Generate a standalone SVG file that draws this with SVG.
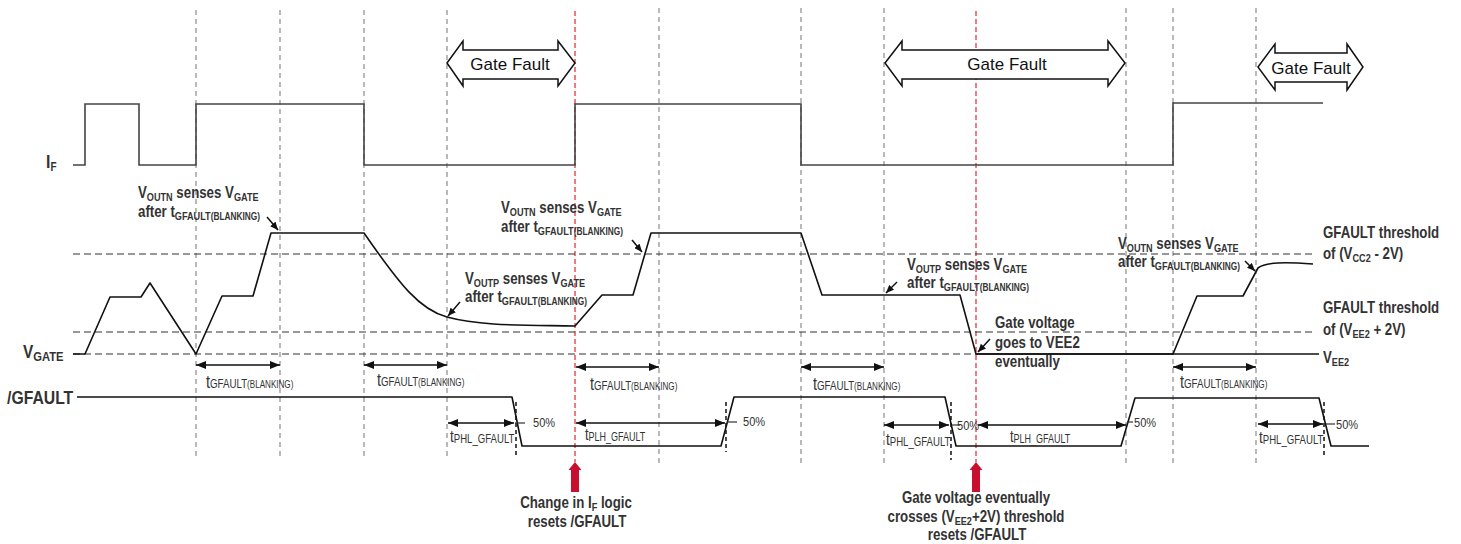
<svg xmlns="http://www.w3.org/2000/svg" width="1461" height="544" viewBox="0 0 1461 544">
<style>
.grid{stroke:#8c8c8c;stroke-width:1.2;stroke-dasharray:5 4;fill:none}
.red{stroke:#e3262b;stroke-width:1.2;stroke-dasharray:5 3;fill:none}
.thr{stroke:#333;stroke-width:1.2;stroke-dasharray:7 4;fill:none}
.mk{stroke:#111;stroke-width:1.5;stroke-dasharray:4 3;fill:none}
.wave{stroke:#111;stroke-width:1.6;fill:none;stroke-linejoin:round}
.ifw{stroke:#444;stroke-width:1.6;fill:none}
.tick{stroke:#333;stroke-width:1.2}
.dim{stroke:#111;stroke-width:1.6;fill:none;marker-start:url(#ah);marker-end:url(#ah)}
.ptr{stroke:#111;stroke-width:1.5;fill:none;marker-end:url(#ph)}
.blk{fill:#fff;stroke:#111;stroke-width:1.5;stroke-linejoin:miter}
.gf{font-family:"Liberation Sans",Arial,sans-serif;font-size:17px;fill:#111;text-anchor:middle}
.lb{font-family:"Liberation Sans",Arial,sans-serif;font-weight:bold;font-size:16px;fill:#333}
.rg{font-family:"Liberation Sans",Arial,sans-serif;font-size:18px;fill:#333}
.pc{font-family:"Liberation Sans",Arial,sans-serif;font-size:13px;fill:#333}
.s{font-size:11px}
.s2{font-size:10px}
.r1{font-size:12px}
.r2{font-size:10px}
.mid{text-anchor:middle}
.redarrow{fill:#c8102e}
</style>
<defs>
<marker id="ah" viewBox="0 0 10 8" refX="10" refY="4" markerWidth="10" markerHeight="8" markerUnits="userSpaceOnUse" orient="auto-start-reverse"><path d="M0,0 L10,4 L0,8 z" fill="#111"/></marker>
<marker id="ph" viewBox="0 0 8 7" refX="8" refY="3.5" markerWidth="8" markerHeight="7" markerUnits="userSpaceOnUse" orient="auto"><path d="M0,0 L8,3.5 L0,7 z" fill="#111"/></marker>
</defs>
<rect width="1461" height="544" fill="#fff"/>

<g id="gridlines">
<line class="grid" x1="196" y1="10" x2="196" y2="460"/>
<line class="grid" x1="280" y1="10" x2="280" y2="460"/>
<line class="grid" x1="364" y1="10" x2="364" y2="460"/>
<line class="grid" x1="447" y1="10" x2="447" y2="460"/>
<line class="grid" x1="659" y1="8" x2="659" y2="464"/>
<line class="grid" x1="801" y1="8" x2="801" y2="464"/>
<line class="grid" x1="884" y1="8" x2="884" y2="464"/>
<line class="grid" x1="1126" y1="8" x2="1126" y2="466"/>
<line class="grid" x1="1173" y1="8" x2="1173" y2="466"/>
<line class="grid" x1="1256" y1="8" x2="1256" y2="466"/>
<line class="red" x1="575" y1="11" x2="575" y2="462"/>
<line class="red" x1="976" y1="11" x2="976" y2="462"/>
</g>

<g id="thresholds">
<line class="thr" x1="73" y1="254" x2="1313" y2="254"/>
<line class="thr" x1="73" y1="332" x2="1314" y2="332"/>
<line class="thr" x1="73" y1="354" x2="976" y2="354"/>
<line class="wave" x1="976" y1="354" x2="1319" y2="354"/>
</g>

<g id="gate-fault-1">
<path class="blk" d="M447,63 L463,41 L463,50 L558,50 L558,41 L575,63 L558,86 L558,79 L463,79 L463,86 Z"/>
<text class="gf" x="510" y="69.5">Gate Fault</text>
</g>
<g id="gate-fault-2">
<path class="blk" d="M885,63 L902,41 L902,50 L1108,50 L1108,41 L1125,63 L1108,86 L1108,79 L902,79 L902,86 Z"/>
<text class="gf" x="1007" y="70">Gate Fault</text>
</g>
<g id="gate-fault-3">
<path class="blk" d="M1258,67 L1275,44 L1275,53 L1347,53 L1347,44 L1363,67 L1347,90 L1347,82 L1275,82 L1275,90 Z"/>
<text class="gf" x="1311" y="73.5">Gate Fault</text>
</g>

<g id="if-signal">
<text class="lb" transform="translate(46,168) scale(0.83,1)" style="font-size:19px">I<tspan class="r1" dy="3">F</tspan></text>
<path class="ifw" d="M73,165 L85,165 L85,104 L139,104 L139,165 L196,165 L196,104 L364,104 L364,165 L575,165 L575,104 L801,104 L801,165 L1173,165 L1173,103 L1323,103"/>
</g>

<g id="vgate-signal">
<text class="lb" transform="translate(23,358) scale(0.83,1)" style="font-size:18.5px">V<tspan style="font-size:13.5px" dy="3">GATE</tspan></text>
<path class="wave" d="M73,354 L85,354 L110,297 L141,297 L150,283 L196,354 L222,296 L253,296 L271,233 L364,233 C400,285 420,310 447,317 C480,326 520,325 575,326 L602,295 L633,295 L651,233 L801,233 L822,295 L960,295 L976,354 L1173,354 L1197,296 L1243,296 L1258,268 C1266,262 1285,262 1313,264"/>
</g>

<g id="gfault-signal">
<text class="lb" transform="translate(7,404) scale(0.83,1)" style="font-size:19px">/GFAULT</text>
<path class="wave" d="M77,397 L512,397 L522,446 L721,446 L734,397 L945,397 L956,446 L1121,446 L1135,398 L1319,398 L1331,446 L1369,446"/>
<line class="mk" x1="516" y1="402" x2="516" y2="457"/>
<line class="mk" x1="726" y1="402" x2="726" y2="452"/>
<line class="mk" x1="951" y1="402" x2="951" y2="460"/>
<line class="mk" x1="1324" y1="402" x2="1324" y2="457"/>
<line class="tick" x1="515" y1="423" x2="525" y2="423"/>
<line class="tick" x1="727" y1="422" x2="737" y2="422"/>
<line class="tick" x1="952" y1="425" x2="960" y2="425"/>
<line class="tick" x1="1127" y1="422" x2="1133" y2="422"/>
<line class="tick" x1="1326" y1="424" x2="1335" y2="424"/>
<text class="pc" transform="translate(533,427) scale(0.85,1)">50%</text>
<text class="pc" transform="translate(743,426) scale(0.85,1)">50%</text>
<text class="pc" transform="translate(957,430) scale(0.85,1)">50%</text>
<text class="pc" transform="translate(1134,427) scale(0.85,1)">50%</text>
<text class="pc" transform="translate(1336,429) scale(0.85,1)">50%</text>
</g>

<g id="label-voutn-1">
<text class="lb" transform="translate(138,198) scale(0.83,1)">V<tspan class="s" dy="3">OUTN</tspan><tspan dy="-3"> senses V</tspan><tspan class="s" dy="3">GATE</tspan></text>
<text class="lb" transform="translate(138,217) scale(0.83,1)">after t<tspan class="s" dy="3">GFAULT</tspan><tspan class="s2">(BLANKING)</tspan></text>
</g>
<g id="label-voutp-1">
<text class="lb" transform="translate(465,284) scale(0.83,1)">V<tspan class="s" dy="3">OUTP</tspan><tspan dy="-3"> senses V</tspan><tspan class="s" dy="3">GATE</tspan></text>
<text class="lb" transform="translate(465,302) scale(0.83,1)">after t<tspan class="s" dy="3">GFAULT</tspan><tspan class="s2">(BLANKING)</tspan></text>
</g>
<g id="label-voutn-2">
<text class="lb" transform="translate(501,213) scale(0.83,1)">V<tspan class="s" dy="3">OUTN</tspan><tspan dy="-3"> senses V</tspan><tspan class="s" dy="3">GATE</tspan></text>
<text class="lb" transform="translate(501,232) scale(0.83,1)">after t<tspan class="s" dy="3">GFAULT</tspan><tspan class="s2">(BLANKING)</tspan></text>
</g>
<g id="label-voutp-2">
<text class="lb" transform="translate(907,270) scale(0.83,1)">V<tspan class="s" dy="3">OUTP</tspan><tspan dy="-3"> senses V</tspan><tspan class="s" dy="3">GATE</tspan></text>
<text class="lb" transform="translate(907,288) scale(0.83,1)">after t<tspan class="s" dy="3">GFAULT</tspan><tspan class="s2">(BLANKING)</tspan></text>
</g>
<g id="label-voutn-3">
<text class="lb" transform="translate(1118,249) scale(0.83,1)">V<tspan class="s" dy="3">OUTN</tspan><tspan dy="-3"> senses V</tspan><tspan class="s" dy="3">GATE</tspan></text>
<text class="lb" transform="translate(1118,267) scale(0.83,1)">after t<tspan class="s" dy="3">GFAULT</tspan><tspan class="s2">(BLANKING)</tspan></text>
</g>
<g id="label-gate-vee2">
<text class="lb" transform="translate(995,328) scale(0.83,1)">Gate voltage</text>
<text class="lb" transform="translate(995,348) scale(0.83,1)">goes to VEE2</text>
<text class="lb" transform="translate(995,367) scale(0.83,1)">eventually</text>
</g>
<g id="label-thr-high">
<text class="lb" transform="translate(1323,238) scale(0.83,1)">GFAULT threshold</text>
<text class="lb" transform="translate(1323,259) scale(0.83,1)">of (V<tspan class="s" dy="3">CC2</tspan><tspan dy="-3"> - 2V)</tspan></text>
</g>
<g id="label-thr-low">
<text class="lb" transform="translate(1323,313) scale(0.83,1)">GFAULT threshold</text>
<text class="lb" transform="translate(1323,335) scale(0.83,1)">of (V<tspan class="s" dy="3">EE2</tspan><tspan dy="-3"> + 2V)</tspan></text>
</g>
<g id="label-vee2">
<text class="lb" transform="translate(1323,363) scale(0.83,1)">V<tspan class="s" dy="3">EE2</tspan></text>
</g>

<g id="blanking-labels">
<text class="rg" transform="translate(206,388) scale(0.81,1)">t<tspan class="r1">GFAULT</tspan><tspan class="r2">(BLANKING)</tspan></text>
<text class="rg" transform="translate(377,386) scale(0.81,1)">t<tspan class="r1">GFAULT</tspan><tspan class="r2">(BLANKING)</tspan></text>
<text class="rg" transform="translate(590,390) scale(0.81,1)">t<tspan class="r1">GFAULT</tspan><tspan class="r2">(BLANKING)</tspan></text>
<text class="rg" transform="translate(813,390) scale(0.81,1)">t<tspan class="r1">GFAULT</tspan><tspan class="r2">(BLANKING)</tspan></text>
<text class="rg" transform="translate(1180,388) scale(0.81,1)">t<tspan class="r1">GFAULT</tspan><tspan class="r2">(BLANKING)</tspan></text>
</g>
<g id="prop-labels">
<text class="rg" transform="translate(450,442) scale(0.8,1)" style="font-size:17px">t<tspan class="r1" dy="1">PHL_GFAULT</tspan></text>
<text class="rg" transform="translate(585,440) scale(0.75,1)" style="font-size:17px">t<tspan class="r1" dy="1">PLH_GFAULT</tspan></text>
<text class="rg" transform="translate(886,445) scale(0.8,1)" style="font-size:17px">t<tspan class="r1" dy="1">PHL_GFAULT</tspan></text>
<text class="rg" transform="translate(1010,442) scale(0.75,1)" style="font-size:17px">t<tspan class="r1" dy="1">PLH_GFAULT</tspan></text>
<text class="rg" transform="translate(1259,443) scale(0.8,1)" style="font-size:17px">t<tspan class="r1" dy="1">PHL_GFAULT</tspan></text>
</g>

<g id="reset-if">
<path class="redarrow" d="M575,462 L581.5,470 L579,470 L579,492 L571,492 L571,470 L568.5,470 Z"/>
<text class="lb mid" transform="translate(576,508) scale(0.83,1)">Change in I<tspan class="s" dy="3">F</tspan><tspan dy="-3"> logic</tspan></text>
<text class="lb mid" transform="translate(577,527) scale(0.83,1)">resets /GFAULT</text>
</g>
<g id="reset-vee2">
<path class="redarrow" d="M976,462 L982.5,470 L980,470 L980,492 L972,492 L972,470 L969.5,470 Z"/>
<text class="lb mid" transform="translate(976,503) scale(0.83,1)">Gate voltage eventually</text>
<text class="lb mid" transform="translate(976,522) scale(0.83,1)">crosses (V<tspan class="s" dy="3">EE2</tspan><tspan dy="-3">+2V) threshold</tspan></text>
<text class="lb mid" transform="translate(977,540) scale(0.83,1)">resets /GFAULT</text>
</g>

<g id="connectors">
<line class="dim" x1="196" y1="365" x2="280" y2="365"/>
<line class="dim" x1="364" y1="365" x2="447" y2="365"/>
<line class="dim" x1="576" y1="367" x2="659" y2="367"/>
<line class="dim" x1="801" y1="367" x2="884" y2="367"/>
<line class="dim" x1="1173" y1="367" x2="1256" y2="367"/>
<line class="dim" x1="448" y1="423" x2="514" y2="423"/>
<line class="dim" x1="576" y1="423" x2="725" y2="423"/>
<line class="dim" x1="884" y1="425" x2="949" y2="425"/>
<line class="dim" x1="978" y1="425" x2="1126" y2="425"/>
<line class="dim" x1="1258" y1="424" x2="1323" y2="424"/>
<line class="ptr" x1="267" y1="217" x2="278" y2="230"/>
<line class="ptr" x1="460" y1="302" x2="448" y2="316"/>
<line class="ptr" x1="632" y1="240" x2="642" y2="252"/>
<line class="ptr" x1="897" y1="282" x2="886" y2="293"/>
<line class="ptr" x1="990" y1="339" x2="978" y2="352"/>
<line class="ptr" x1="1245" y1="261" x2="1255" y2="271"/>
</g>
</svg>
